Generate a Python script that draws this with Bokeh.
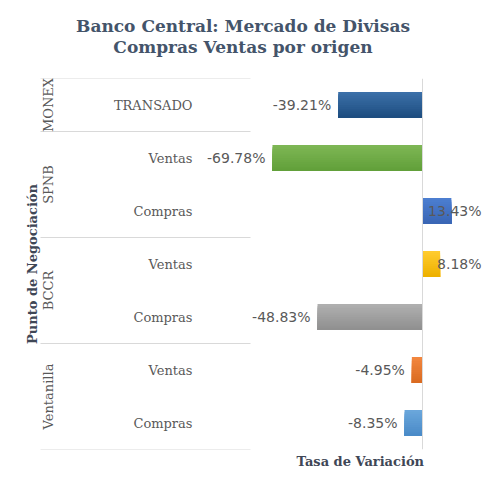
import math
from bokeh.plotting import figure
from bokeh.layouts import column
from bokeh.models import FactorRange, Range1d, Span, Title
from bokeh.core.properties import value
from bokeh.embed import file_html
from bokeh.resources import INLINE

# ---------------- data (top to bottom as in the chart) ----------------
groups = ["MONEX", "SPNB", "SPNB", "BCCR", "BCCR", "Ventanilla", "Ventanilla"]
subcats = ["TRANSADO", "Ventas", "Compras", "Ventas", "Compras", "Ventas", "Compras"]
rates = [-39.21, -69.78, 13.43, 8.18, -48.83, -4.95, -8.35]
rate_labels = ["-39.21%", "-69.78%", "13.43%", "8.18%", "-48.83%", "-4.95%", "-8.35%"]
title_lines = ["Banco Central: Mercado de Divisas", "Compras Ventas por origen"]
x_title = "Tasa de Variación"
y_title = "Punto de Negociación"

# ---------------- styles ----------------
bar_top = ["#3B6FA8", "#7DB654", "#4C7ED0", "#FFCB2E", "#AFAFAF", "#F2863E", "#6AA6DB"]
bar_bot = ["#1E4E80", "#62A03A", "#3A66B5", "#EDB100", "#909090", "#DA6B21", "#4A8BC8"]
TITLE_C = "#44546A"
AXT_C = "#3F4756"
LAB_C = "#595959"
GRID_C = "#D9D9D9"
SERIF = "DejaVu Serif"
SANS = "DejaVu Sans"

W = 485
H_TITLE = 78
H_MAIN, B_BOT = 411, 40
# Excel-like value axis: -80..20 over plot area (px 250..465)
AX_MIN, AX_MAX, PA_L, PA_R = -80.0, 20.0, 250.0, 465.0
scale = (PA_R - PA_L) / (AX_MAX - AX_MIN)
x_start = AX_MIN - PA_L / scale
x_end = AX_MAX + (W - PA_R) / scale

# ---------------- title figure ----------------
t = figure(width=W, height=H_TITLE, output_backend="svg", toolbar_location=None,
           x_range=Range1d(0, W), y_range=Range1d(H_TITLE, 0),
           x_axis_location=None, y_axis_location=None, min_border=0, title=None)
t.outline_line_color = None
t.xgrid.visible = False
t.ygrid.visible = False
t.text(x=[W / 2] * 2, y=[25, 46], text=title_lines, text_align="center",
       text_baseline="middle", text_font=value(SERIF), text_font_size="17px",
       text_font_style="bold", text_color=TITLE_C)

# ---------------- main figure ----------------
factors = list(zip(groups, subcats))[::-1]  # bottom -> top
y_range = FactorRange(factors=factors, factor_padding=0, group_padding=0,
                      subgroup_padding=0, range_padding=0)

p = figure(width=W, height=H_MAIN, output_backend="svg", toolbar_location=None,
           x_range=Range1d(x_start, x_end), y_range=y_range,
           x_axis_location=None, y_axis_location=None,
           min_border_left=0, min_border_right=0,
           min_border_top=0, min_border_bottom=B_BOT, title=None)
p.extra_x_ranges = {"px": Range1d(0, W)}
p.outline_line_color = None
p.xgrid.visible = False
p.ygrid.visible = False

p.add_layout(Title(text=x_title, align="left", offset=296, text_font=SERIF,
                   text_font_size="13px", text_font_style="bold",
                   text_color=AXT_C, standoff=4), "below")

# zero line
p.add_layout(Span(location=0, dimension="height", line_color=GRID_C, line_width=1))

# group separators
uniq = []
for g in groups:
    if g not in uniq:
        uniq.append(g)
sizes = {g: groups.count(g) for g in uniq}
sep_y = [(uniq[0], sizes[uniq[0]] / 2)] + [(g, -sizes[g] / 2) for g in uniq]
p.segment(x0=[40] * len(sep_y), x1=[250] * len(sep_y), y0=sep_y, y1=sep_y,
          x_range_name="px", line_color=GRID_C, line_width=1)

# bars with vertical gradient (overlapping strips, top -> bottom)
def mix(c1, c2, f):
    a = [int(c1[k:k + 2], 16) for k in (1, 3, 5)]
    b = [int(c2[k:k + 2], 16) for k in (1, 3, 5)]
    return "#%02x%02x%02x" % tuple(round(a[j] + (b[j] - a[j]) * f) for j in range(3))

BAR_H = 0.49
N = 12
ys, rights, cols, hs = [], [], [], []
for k in range(N):
    top = BAR_H / 2 - k * BAR_H / N
    hk = top + BAR_H / 2
    for g, s, v, ct, cb in zip(groups, subcats, rates, bar_top, bar_bot):
        ys.append((g, s, top - hk / 2))
        rights.append(v)
        hs.append(hk)
        cols.append(mix(ct, cb, k / (N - 1)))
p.hbar(y=ys, left=0, right=rights, height=hs, fill_color=cols, line_color=None)

# value labels
neg = [i for i, v in enumerate(rates) if v < 0]
pos = [i for i, v in enumerate(rates) if v >= 0]
p.text(x=[rates[i] for i in neg], y=[(groups[i], subcats[i]) for i in neg],
       text=[rate_labels[i] for i in neg], x_offset=-7,
       text_align="right", text_baseline="middle", text_font=value(SANS),
       text_font_size="14px", text_color=LAB_C)
p.text(x=[x_end] * len(pos), y=[(groups[i], subcats[i]) for i in pos],
       text=[rate_labels[i] for i in pos], x_offset=-4,
       text_align="right", text_baseline="middle", text_font=value(SANS),
       text_font_size="14px", text_color=LAB_C)

# category labels
p.text(x=[192] * len(subcats), y=list(zip(groups, subcats)), text=subcats,
       x_range_name="px", text_align="right", text_baseline="middle",
       text_font=value(SERIF), text_font_size="13px", text_color=LAB_C)
p.text(x=[48] * len(uniq), y=uniq, text=uniq, angle=math.pi / 2,
       x_range_name="px", text_align="center", text_baseline="middle",
       text_font=value(SERIF), text_font_size="13px", text_color=LAB_C)
p.text(x=[32], y=[len(groups) / 2], text=[y_title], angle=math.pi / 2,
       x_range_name="px", text_align="center", text_baseline="middle",
       text_font=value(SERIF), text_font_size="13px", text_font_style="bold",
       text_color=AXT_C)

layout = column(t, p, spacing=0)
open("out.html", "w").write(file_html(layout, INLINE))
